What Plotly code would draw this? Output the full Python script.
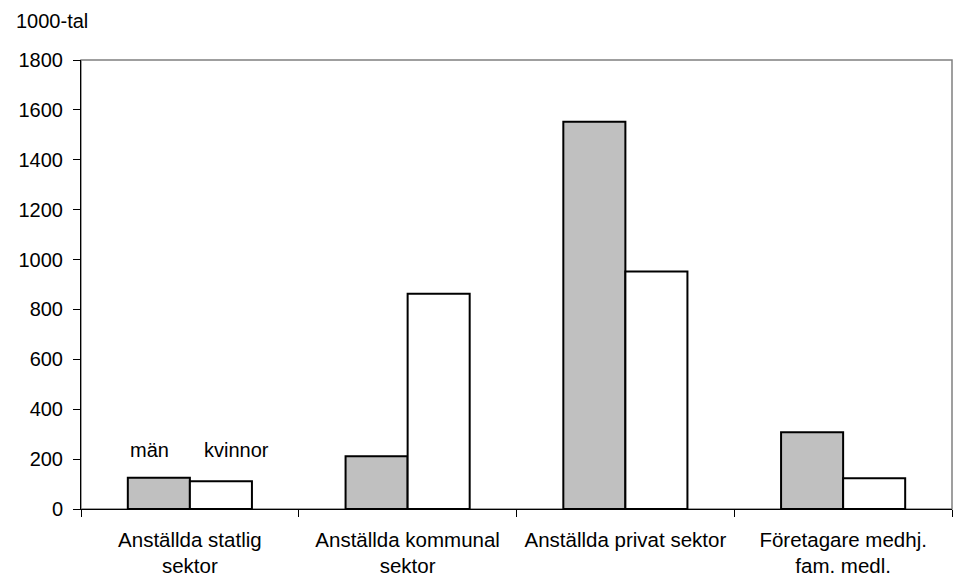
import plotly.graph_objects as go

categories = ["Anställda statlig<br>sektor", "Anställda kommunal<br>sektor",
              "Anställda privat sektor", "Företagare medhj.<br>fam. medl."]
man = [125, 211, 1552, 308]
kvinnor = [111, 863, 952, 123]
y_ticks = [0, 200, 400, 600, 800, 1000, 1200, 1400, 1600, 1800]

FONT = "Liberation Sans, Arial, sans-serif"

fig = go.Figure()
fig.add_trace(go.Bar(x=categories, y=man, name="män",
                     marker=dict(color="#c0c0c0", line=dict(color="black", width=2))))
fig.add_trace(go.Bar(x=categories, y=kvinnor, name="kvinnor",
                     marker=dict(color="white", line=dict(color="black", width=2))))

fig.update_layout(
    width=953, height=579,
    margin=dict(l=81, r=1, t=60, b=70, pad=0),
    paper_bgcolor="white", plot_bgcolor="white",
    barmode="group", bargap=0.43, bargroupgap=0,
    showlegend=False,
    font=dict(family=FONT, size=20, color="black"),
    xaxis=dict(type="category", tickson="boundaries", ticks="outside", ticklen=7,
               tickcolor="black", showline=True, linecolor="black", linewidth=1,
               showgrid=False, tickfont=dict(size=20.5), ticklabelstandoff=12),
    yaxis=dict(range=[0, 1800], tickvals=y_ticks, ticks="outside", ticklen=7,
               tickcolor="black", showline=True, linecolor="black", linewidth=1,
               showgrid=False, zeroline=False, tickfont=dict(size=20),
               ticklabelstandoff=6),
    shapes=[dict(type="rect", xref="paper", yref="paper", x0=0, x1=1, y0=0, y1=1,
                 line=dict(color="#808080", width=1.5), layer="below")],
    annotations=[
        dict(text="1000-tal", xref="paper", yref="paper", x=-0.077, y=1.087,
             xanchor="left", yanchor="middle", showarrow=False, font=dict(size=20)),
        dict(text="män", x=categories[0], y=238, xshift=-40, showarrow=False,
             yanchor="middle", font=dict(size=20)),
        dict(text="kvinnor", x=categories[0], y=238, xshift=47, showarrow=False,
             yanchor="middle", font=dict(size=20)),
    ],
)

fig.write_html("out.html", config={"displayModeBar": False},
               post_script="document.body.style.margin='0';document.body.style.overflow='hidden';")
